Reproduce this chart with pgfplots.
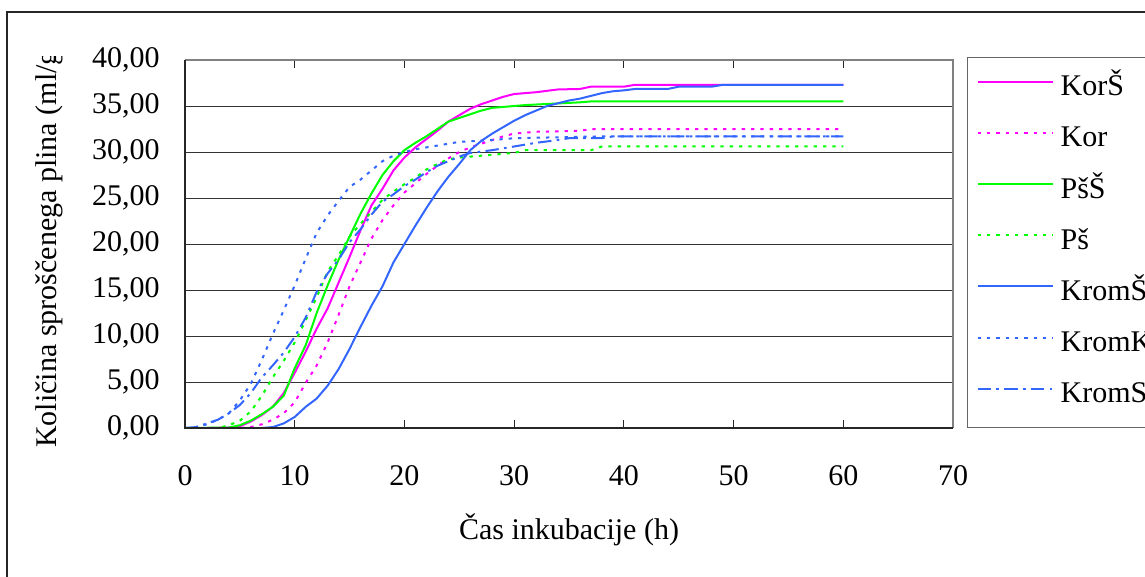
\documentclass[border=0pt]{standalone}
\usepackage{fontspec}
\setmainfont{Liberation Serif}
\usepackage{pgfplots}
\pgfplotsset{compat=1.18}

\definecolor{cmag}{HTML}{FF00FF}
\definecolor{cgrn}{HTML}{00FF00}
\definecolor{cblu}{HTML}{3366FF}

\begin{document}
\begin{tikzpicture}[font=\fontsize{22.5}{27}\selectfont]
\useasboundingbox (0,0) rectangle (858.75pt,432pt);
\clip (0,0) rectangle (858.75pt,432pt);
\draw[black!85, line width=1.1pt] (5.25pt,-10pt) rectangle (880pt,423pt);

% y label, cut at the top as in the original
\begin{scope}
\clip (0pt,0pt) rectangle (110pt,389.25pt);
\node[rotate=90, anchor=center, inner sep=0pt] at (36.75pt,249pt) {Količina sproščenega plina (ml/g)};
\end{scope}

\begin{axis}[
at={(138.75pt,111pt)}, anchor=south west,
width=576pt, height=276pt, scale only axis,
xmin=0, xmax=70, ymin=0, ymax=40,
xtick={0,10,...,70}, ytick={0,5,...,40},
tick align=inside, major tick length=6pt,
xtick style={black!85, line width=0.75pt},
ytick style={draw=none},
axis line style={draw=none},
ymajorgrids=true,
grid style={black!80, line width=0.75pt},
/pgf/number format/assume math mode=true,
yticklabel style={anchor=east, inner sep=0pt, xshift=-18.75pt,
  /pgf/number format/.cd, fixed, fixed zerofill, precision=2, use comma},
xticklabel style={anchor=center, inner sep=0pt, yshift=-36pt},
scaled y ticks=false,
xlabel={Čas inkubacije (h)},
xlabel style={at={(axis description cs:0.5,0)}, anchor=center, yshift=-76.5pt, inner sep=0pt},
legend cell align=left,
legend style={at={(1.0182,1.0082)}, anchor=north west, draw=black!60, line width=1pt,
  inner xsep=6.75pt, inner ysep=13.5pt, row sep=18.4pt, column sep=5.25pt,
  nodes={inner sep=0pt, text height=15pt, text depth=5pt, anchor=west}},
legend image code/.code={\draw[#1] (0pt,5.5pt) -- (56.25pt,5.5pt);},
every axis plot/.append style={line width=1.5pt},
extra description/.code={
  \draw[gray, line width=1pt] (rel axis cs:0,1) -- (rel axis cs:1,1) -- (rel axis cs:1,0);
  \draw[black!85, line width=1.1pt] (rel axis cs:0,1) -- (rel axis cs:0,0) -- (rel axis cs:1,0);
},
]

% KorS
\addplot[cmag, solid] table {
x y
0 0
2 0
4 0.05
5 0.2
6 0.7
7 1.4
8 2.3
9 3.8
10 6
11 8.3
12 10.8
13 13
14 15.8
15 18.6
16 21.5
17 24.2
18 26
19 28
20 29.4
21 30.5
22 31.4
23 32.3
24 33.3
25 34.0
26 34.7
27 35.2
28 35.6
29 36.0
30 36.3
32 36.5
34 36.8
36 36.85
37 37.1
40 37.1
41 37.3
60 37.3
};
\addlegendentry{KorŠ}

% Kor
\addplot[cmag, dash pattern=on 2.5pt off 4.5pt] table {
x y
0 0
5 0
6 0.1
7 0.4
8 0.9
9 1.6
10 2.8
11 4.9
12 6.8
13 9.3
14 12.3
15 15.4
16 18.0
17 20.6
18 22.6
19 24.2
20 25.6
21 26.6
22 27.6
23 28.5
24 29.3
25 30.0
26 30.5
27 30.9
28 31.3
29 31.7
30 32.0
32 32.2
36 32.3
37 32.5
60 32.5
};
\addlegendentry{Kor}

% PsS
\addplot[cgrn, solid] table {
x y
0 0
4 0.05
5 0.3
6 0.8
7 1.5
8 2.3
9 3.5
10 6.5
11 9
12 12.5
13 15.5
14 18.3
15 20.8
16 23.3
17 25.5
18 27.5
19 29
20 30.2
21 31
22 31.7
23 32.5
24 33.3
25 33.7
26 34.1
27 34.5
28 34.8
29 34.9
31 35.1
36 35.4
37 35.5
60 35.5
};
\addlegendentry{PšŠ}

% Ps
\addplot[cgrn, dash pattern=on 2.5pt off 4.5pt] table {
x y
0 0
3 0
4 0.3
5 0.8
6 1.8
7 3.5
8 5.5
9 7.3
10 9.3
11 11.7
12 14.2
13 17.0
14 18.8
15 20.8
16 22.2
17 23.5
18 24.8
19 25.7
20 26.5
21 27.2
22 28.1
23 28.7
24 29.2
25 29.4
26 29.5
28 29.7
30 29.9
31 30.2
37 30.2
38 30.6
60 30.6
};
\addlegendentry{Pš}

% KromS (solid)
\addplot[cblu, solid] table {
x y
0 0
7 0
8 0.1
9 0.5
10 1.2
11 2.3
12 3.2
13 4.6
14 6.4
15 8.6
16 11
17 13.3
18 15.4
19 18.0
20 20.0
21 22.0
22 23.9
23 25.7
24 27.3
25 28.7
26 30.2
27 31.2
28 32.0
29 32.7
30 33.4
31 34.0
32 34.5
33 35.0
34 35.3
35 35.6
36 35.8
37 36.1
38 36.4
39 36.6
40 36.7
41 36.85
44 36.85
45 37.1
48 37.1
49 37.3
60 37.3
};
\addlegendentry{KromŠ}

% KromK
\addplot[cblu, dash pattern=on 2.5pt off 4.5pt] table {
x y
0 0
1 0.1
2 0.4
3 0.9
4 1.6
5 3.0
6 4.8
7 7.4
8 10.2
9 12.8
10 15.5
11 18.4
12 21.2
13 23.1
14 24.7
15 26.2
16 27.0
17 28.0
18 29.0
19 29.6
20 30.0
21 30.3
23 30.7
25 31.1
28 31.3
30 31.5
38 31.7
60 31.7
};
\addlegendentry{KromK}

% KromS (dash-dot)
\addplot[cblu, dash pattern=on 10pt off 4pt on 2pt off 4pt] table {
x y
0 0
1 0.1
2 0.5
3 0.9
4 1.6
5 2.5
6 3.8
7 5.5
8 6.8
9 8.2
10 9.9
11 12.0
12 14.8
13 16.8
14 18.3
15 20.2
16 21.6
17 23.2
18 24.6
19 25.4
20 26.3
21 27.0
22 27.8
23 28.5
24 29.0
25 29.5
26 29.9
28 30.2
30 30.6
32 31.0
34 31.3
35 31.5
38 31.5
39 31.7
60 31.7
};
\addlegendentry{KromS}

\end{axis}
\end{tikzpicture}
\end{document}
